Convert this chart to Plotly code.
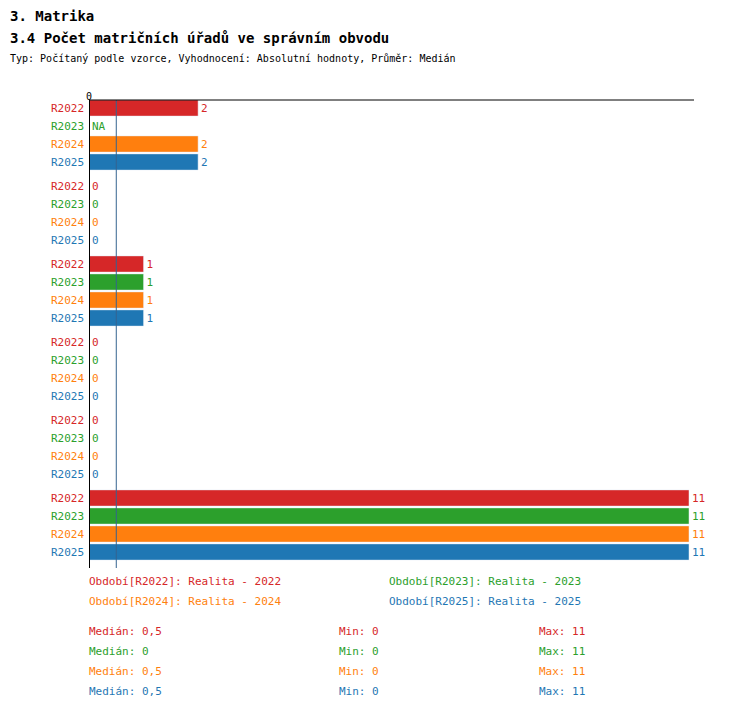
from plotly import graph_objects as go

groups = ["84", "118", "122", "131", "138", "146"]
series = ["R2022", "R2023", "R2024", "R2025"]
colors = ["#d62728", "#2ca02c", "#ff7f0e", "#1f77b4"]
values = {
    "R2022": [2, 0, 1, 0, 0, 11],
    "R2023": [None, 0, 1, 0, 0, 11],
    "R2024": [2, 0, 1, 0, 0, 11],
    "R2025": [2, 0, 1, 0, 0, 11],
}
median_value = 0.5
legend_names = ["Období[R2022]: Realita - 2022", "Období[R2023]: Realita - 2023",
                "Období[R2024]: Realita - 2024", "Období[R2025]: Realita - 2025"]
medians = ["0,5", "0", "0,5", "0,5"]
mins = ["0", "0", "0", "0"]
maxs = ["11", "11", "11", "11"]

FONT = "DejaVu Sans Mono"
GROUP_STEP = 4 + 1 / 3


def main() -> None:
    fig = go.Figure()
    for si, s in enumerate(series):
        ys = [gi * GROUP_STEP + si for gi in range(len(groups))]
        vals = values[s]
        fig.add_trace(go.Bar(
            orientation="h",
            x=[v if v is not None else 0 for v in vals],
            y=ys,
            width=0.9,
            marker=dict(color=colors[si]),
            text=[str(v) if v is not None else "NA" for v in vals],
            textposition="outside",
            cliponaxis=False,
            textfont=dict(family=FONT, size=11, color=colors[si]),
            showlegend=False,
        ))
        for gi, y in enumerate(ys):
            fig.add_annotation(x=0, y=y, xref="x", yref="y", text=s, showarrow=False,
                               xanchor="right", xshift=-3,
                               font=dict(family=FONT, size=11, color=colors[si]))
    for gi, g in enumerate(groups):
        fig.add_annotation(x=-0.7, y=gi * GROUP_STEP, xref="x", yref="y", text=f"<b>{g}</b>",
                           showarrow=False, xanchor="right",
                           font=dict(family=FONT, size=12, color="red" if g == "118" else "black"))

    fig.add_shape(type="line", x0=median_value, x1=median_value, y0=0, y1=1, yref="paper",
                  line=dict(color="#34648f", width=1))
    fig.add_shape(type="line", x0=0, x1=0, y0=0, y1=1, yref="paper",
                  line=dict(color="black", width=2))
    fig.add_shape(type="line", x0=0, x1=1, xref="paper", y0=1, y1=1, yref="paper",
                  line=dict(color="black", width=1))

    def py(p):
        return (560 - p) / 468

    def px(p):
        return (p - 81) / 605

    titles = [("<b>3. Matrika</b>", 8, 14), ("<b>3.4 Počet matričních úřadů ve správním obvodu</b>", 30, 14),
              ("Typ: Počítaný podle vzorce, Vyhodnocení: Absolutní hodnoty, Průměr: Medián", 50, 10)]
    for t, yy, sz in titles:
        fig.add_annotation(x=px(0), y=py(yy), xref="paper", yref="paper", text=t, showarrow=False,
                           xanchor="left", yanchor="middle", font=dict(family=FONT, size=sz, color="black"))
    fig.add_annotation(x=0, y=py(81), xref="x", yref="paper", text="0", showarrow=False,
                       font=dict(family=FONT, size=10, color="black"))

    leg_pos = [(79, 582), (379, 582), (79, 602), (379, 602)]
    for i, (lx, ly) in enumerate(leg_pos):
        fig.add_annotation(x=px(lx), y=py(ly), xref="paper", yref="paper", text=legend_names[i],
                           showarrow=False, xanchor="left", font=dict(family=FONT, size=11, color=colors[i]))
    for i in range(4):
        ly = 632 + 20 * i
        for lx, t in [(79, f"Medián: {medians[i]}"), (329, f"Min: {mins[i]}"), (529, f"Max: {maxs[i]}")]:
            fig.add_annotation(x=px(lx), y=py(ly), xref="paper", yref="paper", text=t,
                               showarrow=False, xanchor="left", font=dict(family=FONT, size=11, color=colors[i]))

    fig.update_layout(
        width=750, height=710,
        margin=dict(l=81, r=64, t=92, b=150),
        plot_bgcolor="white", paper_bgcolor="white",
        barmode="overlay",
        xaxis=dict(range=[0, 11 * 605 / 600], showgrid=False, zeroline=False, showticklabels=False),
        yaxis=dict(range=[(560 - 100) / 18, -8 / 18], showgrid=False, zeroline=False, showticklabels=False),
        font=dict(family=FONT),
    )
    fig.write_html("out.html")


if __name__ == "__main__":
    main()
